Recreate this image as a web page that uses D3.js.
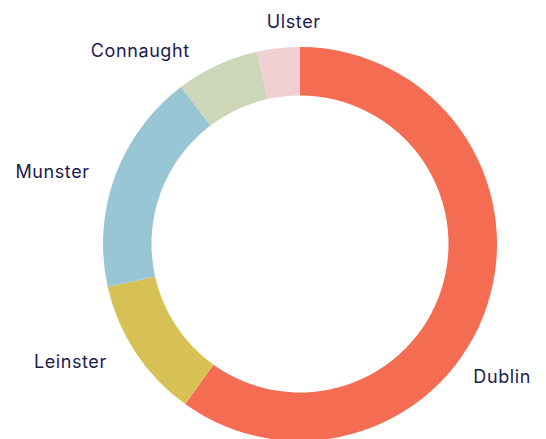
<!DOCTYPE html>
<html>
<head>
<meta charset="utf-8">
<script src="https://cdn.jsdelivr.net/npm/d3@7"></script>
<style>
  html, body { margin: 0; padding: 0; background: #fff; }
  svg { display: block; }
</style>
</head>
<body>
<svg id="chart" width="546" height="439"></svg>
<script>
// ---- data ----
const categories = ["Dublin", "Leinster", "Munster", "Connaught", "Ulster"];
const shares = [59.9, 11.6, 18.2, 6.8, 3.5];
const colors = ["#F46C51", "#D8C154", "#99C6D4", "#CED6BA", "#F0D0D3"];

// ---- layout ----
const W = 546, H = 439;
const cx = 300, cy = 244;
const outerR = 197, innerR = 148.5;
const labelR = 222;
// label nudges (dx, dy) relative to slice mid-angle point on label circle
const labelTweak = {
  Dublin:    [-38, 71.4],
  Leinster:  [-8, 1.5],
  Munster:   [-2, 10.8],
  Connaught: [-17, 14.1],
  Ulster:    [45, 5]
};

const data = categories.map((c, i) => ({ name: c, value: shares[i], color: colors[i] }));

const svg = d3.select("#chart");
const g = svg.append("g").attr("transform", `translate(${cx},${cy})`);

const pie = d3.pie().value(d => d.value).sort(null).startAngle(0).endAngle(2 * Math.PI);
const arc = d3.arc().innerRadius(innerR).outerRadius(outerR);
const arcs = pie(data);

g.selectAll("path.slice")
  .data(arcs)
  .join("path")
  .attr("class", "slice")
  .attr("d", arc)
  .attr("fill", d => d.data.color);

g.selectAll("text.label")
  .data(arcs)
  .join("text")
  .attr("class", "label")
  .each(function (d) {
    const a = (d.startAngle + d.endAngle) / 2;
    const px = labelR * Math.sin(a);
    const py = -labelR * Math.cos(a);
    const t = labelTweak[d.data.name] || [0, 0];
    const right = Math.sin(a) > 0 && d.data.name !== "Ulster";
    const anchor = (d.data.name === "Ulster") ? "end" : (right ? "start" : "end");
    d3.select(this)
      .attr("x", px + t[0])
      .attr("y", py + t[1])
      .attr("text-anchor", anchor);
  })
  .attr("font-family", "Inter, Lato, sans-serif")
  .attr("font-size", 18)
  .attr("letter-spacing", "0.6px")
  .attr("fill", "#1C1A4E")
  .text(d => d.data.name);
</script>
</body>
</html>
